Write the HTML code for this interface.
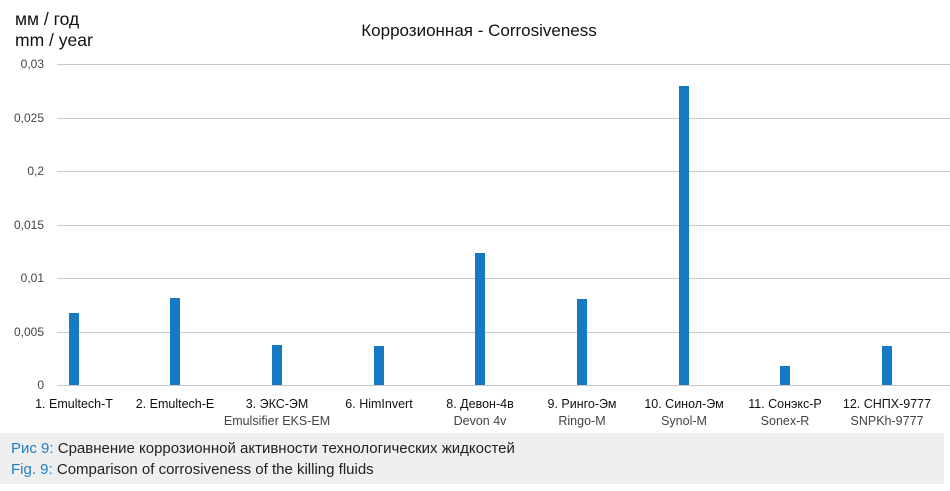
<!DOCTYPE html>
<html><head><meta charset="utf-8"><style>
body{margin:0;background:#fff;width:950px;height:486px;overflow:hidden;font-family:"Liberation Sans","Noto Sans CJK SC",sans-serif}
</style></head><body>
<svg width="950" height="486" xmlns="http://www.w3.org/2000/svg" font-family="Liberation Sans, Noto Sans CJK SC, sans-serif">
<text x="15" y="25" font-size="17.5" fill="#111">мм / год</text>
<text x="15" y="46" font-size="17.5" fill="#111">mm / year</text>
<text x="479" y="36" font-size="17" fill="#111" text-anchor="middle">Коррозионная - Corrosiveness</text>
<g stroke="#c8c8c8" stroke-width="1">
<line x1="57" x2="950" y1="64.5" y2="64.5"/><line x1="57" x2="950" y1="118.5" y2="118.5"/>
<line x1="57" x2="950" y1="171.5" y2="171.5"/><line x1="57" x2="950" y1="225.5" y2="225.5"/>
<line x1="57" x2="950" y1="278.5" y2="278.5"/><line x1="57" x2="950" y1="332.5" y2="332.5"/>
<line x1="57" x2="950" y1="385.5" y2="385.5"/>
</g>
<g font-size="12" fill="#444" text-anchor="end">
<text x="44" y="68">0,03</text><text x="44" y="122">0,025</text><text x="44" y="175">0,2</text>
<text x="44" y="229">0,015</text><text x="44" y="282">0,01</text><text x="44" y="336">0,005</text><text x="44" y="389">0</text>
</g>
<g fill="#1579c4">
<rect x="69" y="313" width="10" height="72"/><rect x="170" y="298" width="10" height="87"/>
<rect x="272" y="345" width="10" height="40"/><rect x="374" y="346" width="10" height="39"/>
<rect x="475" y="253" width="10" height="132"/><rect x="577" y="299" width="10" height="86"/>
<rect x="679" y="86" width="10" height="299"/><rect x="780" y="366" width="10" height="19"/>
<rect x="882" y="346" width="10" height="39"/>
</g>
<g font-size="12.5" fill="#111" text-anchor="middle">
<text x="74" y="408">1. Emultech-T</text><text x="175" y="408">2. Emultech-E</text>
<text x="277" y="408">3. ЭКС-ЭМ</text><text x="379" y="408">6. HimInvert</text>
<text x="480" y="408">8. Девон-4в</text><text x="582" y="408">9. Ринго-Эм</text>
<text x="684" y="408">10. Синол-Эм</text><text x="785" y="408">11. Сонэкс-Р</text>
<text x="887" y="408">12. СНПХ-9777</text>
</g>
<g font-size="12.5" fill="#444" text-anchor="middle">
<text x="277" y="425">Emulsifier EKS-EM</text><text x="480" y="425">Devon 4v</text>
<text x="582" y="425">Ringo-M</text><text x="684" y="425">Synol-M</text>
<text x="785" y="425">Sonex-R</text><text x="887" y="425">SNPKh-9777</text>
</g>
<rect x="0" y="433" width="944" height="51" fill="#efefef"/>
<text x="11" y="453" font-size="15" fill="#222"><tspan fill="#1f7fc6">Рис 9:</tspan> Сравнение коррозионной активности технологических жидкостей</text>
<text x="11" y="474" font-size="15" fill="#222"><tspan fill="#1f7fc6">Fig. 9:</tspan> Comparison of corrosiveness of the killing fluids</text>
</svg>
</body></html>
